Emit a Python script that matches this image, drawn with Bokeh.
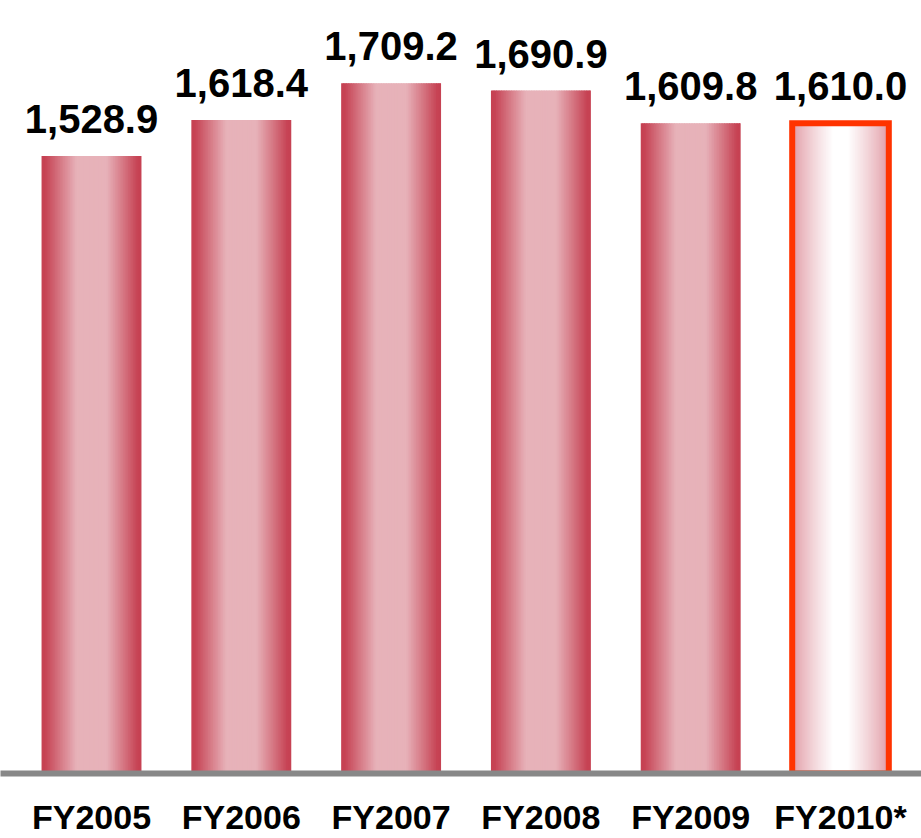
import numpy as np
from bokeh.plotting import figure
from bokeh.models import Range1d, ColumnDataSource, FixedTicker
from bokeh.core.properties import value
from bokeh.embed import file_html
from bokeh.resources import INLINE

# ---- data ----
categories = ["FY2005", "FY2006", "FY2007", "FY2008", "FY2009", "FY2010*"]
values = [1528.9, 1618.4, 1709.2, 1690.9, 1609.8, 1610.0]
forecast = [False, False, False, False, False, True]
value_labels = [f"{v:,.1f}" for v in values]

# ---- style ----
FONT = "Liberation Sans"
BAR_W = 0.667
FC_W = 0.645
N_STRIPS = 60
DARK = np.array([198, 66, 83])
LIGHT = np.array([231, 178, 185])
FC_EDGE = np.array([226, 158, 168])
FC_CENTER = np.array([255, 255, 255])
OUTLINE = "#FF3300"


def hexcol(c):
    c = np.clip(np.round(c), 0, 255).astype(int)
    return "#%02x%02x%02x" % tuple(c)


p = figure(width=921, height=838, output_backend="svg", toolbar_location=None,
           x_range=Range1d(-0.6075, 5.5407), y_range=Range1d(0, 1914),
           min_border_left=0, min_border_right=0, min_border_top=0,
           min_border_bottom=61, outline_line_color=None,
           background_fill_color="white", border_fill_color="white")

left, right, top, bottom, colors = [], [], [], [], []
for i, (v, fc) in enumerate(zip(values, forecast)):
    w = FC_W if fc else BAR_W
    x0 = i - w / 2
    sw = w / N_STRIPS
    for k in range(N_STRIPS):
        t = (k + 0.5) / N_STRIPS
        d = abs(t - 0.5) * 2
        if fc:
            f = np.clip((0.95 - d) / 0.8, 0, 1)
            f = f ** 0.8
            c = FC_EDGE + (FC_CENTER - FC_EDGE) * f
        else:
            f = np.clip((0.93 - d) / 0.63, 0, 1)
            c = DARK + (LIGHT - DARK) * f
        l = x0 + k * sw
        r = min(l + sw * 1.6, x0 + w)
        left.append(l); right.append(r); top.append(v); bottom.append(0)
        colors.append(hexcol(c))

strips = ColumnDataSource(dict(left=left, right=right, top=top, bottom=bottom, color=colors))
p.quad(left="left", right="right", top="top", bottom="bottom", source=strips,
       fill_color="color", line_color=None)

fc_idx = [i for i, f in enumerate(forecast) if f]
outline_src = ColumnDataSource(dict(
    left=[i - FC_W / 2 for i in fc_idx], right=[i + FC_W / 2 for i in fc_idx],
    top=[values[i] for i in fc_idx], bottom=[0 for _ in fc_idx]))
p.quad(left="left", right="right", top="top", bottom="bottom", source=outline_src,
       fill_alpha=0, line_color=OUTLINE, line_width=6, line_join="miter")

lab_src = ColumnDataSource(dict(x=list(range(len(values))), y=values, text=value_labels))
p.text(x="x", y="y", text="text", source=lab_src, text_align="center",
       text_baseline="alphabetic", y_offset=-37, text_font=value(FONT),
       text_font_style="bold", text_font_size="40px", text_color="black")

p.yaxis.visible = False
p.xgrid.visible = False
p.ygrid.visible = False
p.xaxis.ticker = FixedTicker(ticks=list(range(len(categories))))
p.xaxis.major_label_overrides = {i: c for i, c in enumerate(categories)}
p.xaxis.axis_line_color = "#888888"
p.xaxis.axis_line_width = 6
p.xaxis.major_tick_line_color = None
p.xaxis.major_tick_out = 0
p.xaxis.major_tick_in = 0
p.xaxis.minor_tick_line_color = None
p.xaxis.major_label_standoff = 24
p.xaxis.major_label_text_font = FONT
p.xaxis.major_label_text_font_style = "bold"
p.xaxis.major_label_text_font_size = "34px"
p.xaxis.major_label_text_color = "black"

open("out.html", "w").write(file_html(p, INLINE))
